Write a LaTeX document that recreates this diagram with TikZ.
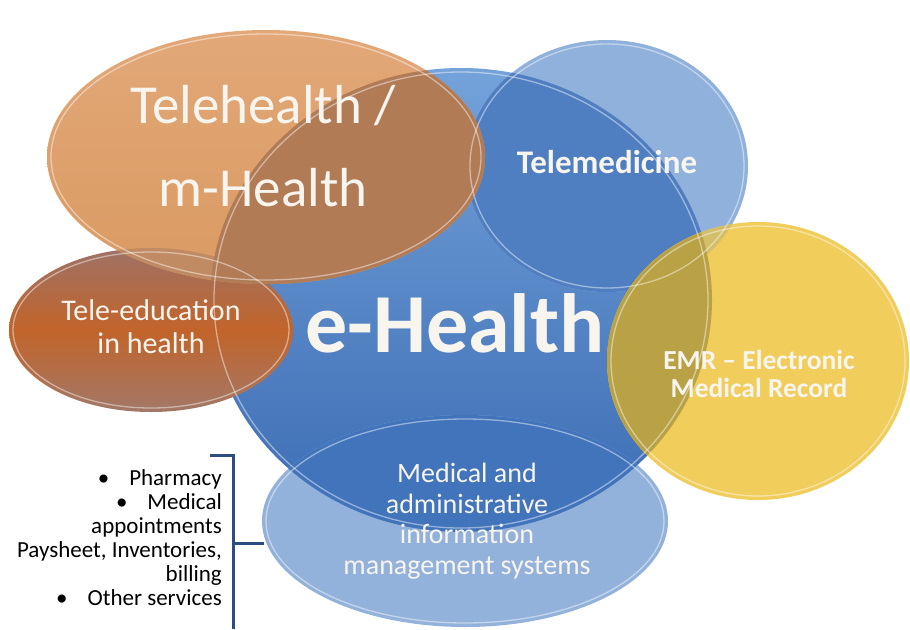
\documentclass[tikz,border=0pt]{standalone}
\usepackage{fontspec}
\setmainfont{Carlito}
\definecolor{bbtop}{HTML}{74A2DA}
\definecolor{bbbot}{HTML}{3B6BB3}
\definecolor{tmout}{HTML}{90B1DB}
\definecolor{tmin}{HTML}{4F7FC1}
\definecolor{thtop}{HTML}{E2A878}
\definecolor{thbot}{HTML}{DA9A62}
\definecolor{thbb}{HTML}{B17B56}
\definecolor{thte}{HTML}{C08A62}
\definecolor{tetop}{HTML}{9E7266}
\definecolor{temid}{HTML}{C2642A}
\definecolor{tebot}{HTML}{A27868}
\definecolor{emrfill}{HTML}{F1CD5C}
\definecolor{emrbb}{HTML}{B9A245}
\definecolor{emrtm}{HTML}{D3BE6A}
\definecolor{emrmis}{HTML}{CDB050}
\definecolor{misout}{HTML}{93B2DB}
\definecolor{misin}{HTML}{4174BB}
\definecolor{brk}{HTML}{2C4D80}
\definecolor{lbltext}{HTML}{F8F4EE}
\begin{document}
\begin{tikzpicture}[x=1pt,y=-1pt,
  bbp/.style={insert path={(461,300) ellipse [x radius=251, y radius=232]}},
  tmp/.style={insert path={(607,166) ellipse [x radius=141, y radius=126]}},
  thp/.style={insert path={(266,157) ellipse [x radius=219, y radius=127]}},
  tep/.style={insert path={(151,330) ellipse [x radius=142, y radius=82]}},
  emrp/.style={insert path={(758,361) ellipse [x radius=151, y radius=139]}},
  misp/.style={insert path={(465,521) ellipse [x radius=203, y radius=106]}},
  rim/.style={draw=white, draw opacity=0.45, line width=1.3pt},
  lbl/.style={text=lbltext, inner sep=0pt, align=center}]
\useasboundingbox (0,0) rectangle (910,629);
\fill[white] (0,0) rectangle (910,629);
% big e-Health circle
\shade[top color=bbtop, bottom color=bbbot, bbp];
% telemedicine
\fill[tmout, tmp];
\begin{scope}\clip[bbp]; \fill[tmin, tmp]; \end{scope}
% tele-education
\shade[top color=tetop, bottom color=tebot, middle color=temid, tep];
% telehealth
\shade[top color=thtop, bottom color=thbot, thp];
\begin{scope}\clip[tep]; \fill[thte, thp]; \end{scope}
\begin{scope}\clip[bbp]; \fill[thbb, thp]; \end{scope}
\begin{scope}\clip[tmp]; \fill[thbb, thp]; \end{scope}
% medical information systems
\fill[misout, misp];
\begin{scope}\clip[bbp]; \fill[misin, misp]; \end{scope}
% EMR
\fill[emrfill, emrp];
\begin{scope}\clip[tmp]; \fill[emrtm, emrp]; \end{scope}
\begin{scope}\clip[misp]; \fill[emrmis, emrp]; \end{scope}
\begin{scope}\clip[bbp]; \fill[emrbb, emrp]; \end{scope}
% rims
\draw[rim] (461,300) ellipse [x radius=247, y radius=228];
\draw[rim] (607,166) ellipse [x radius=137, y radius=122];
\draw[rim] (266,157) ellipse [x radius=215, y radius=123];
\draw[rim] (151,330) ellipse [x radius=138, y radius=78];
\draw[rim] (758,361) ellipse [x radius=147, y radius=135];
\draw[rim] (465,521) ellipse [x radius=199, y radius=102];
% labels
\node[lbl, font=\fontsize{55pt}{83pt}\selectfont] (th) at (263,146) {Telehealth /\\m-Health};
\node[lbl, font=\bfseries\fontsize{33pt}{36pt}\selectfont] (tm) at (607,162) {Telemedicine};
\node[lbl, font=\bfseries\fontsize{84pt}{90pt}\selectfont] (eh) at (455,323) {e-Health};
\node[lbl, font=\fontsize{30pt}{33pt}\selectfont] (te) at (151,327) {Tele-education\\in health};
\node[lbl, font=\bfseries\fontsize{27.5pt}{28pt}\selectfont] (emrl) at (759,374) {EMR -- Electronic\\Medical Record};
\node[lbl, font=\fontsize{28pt}{30.5pt}\selectfont] (mis) at (467,521) {Medical and\\administrative\\information\\management systems};
\node[inner sep=0pt, align=right, anchor=east, text=black,
      font=\fontsize{23pt}{24pt}\selectfont] (list) at (222,538)
  {•\hspace{20pt}Pharmacy\\•\hspace{20pt}Medical\\appointments\\Paysheet, Inventories,\\billing\\•\hspace{20pt}Other services};
% bracket
\coordinate (btop) at (210,455);
\coordinate (bcor) at (233,455);
\coordinate (bmid) at (233,543);
\coordinate (bend) at (233,629);
\coordinate (tip) at (264,543);
\draw[brk, line width=3pt] (btop) -- (bcor) -- (bend);
\draw[brk, line width=3pt] (bmid) -- (tip);
\end{tikzpicture}
\end{document}
